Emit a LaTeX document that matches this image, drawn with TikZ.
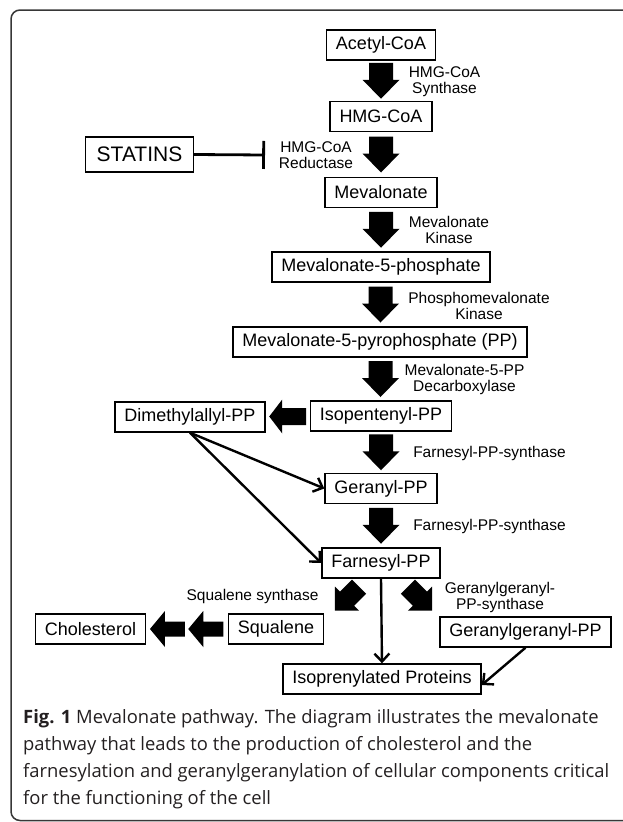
\documentclass[tikz,border=0pt]{standalone}
\usepackage{fontspec}
\setmainfont{Liberation Sans}
\newfontfamily\capfont{Open Sans}
\usepackage{tikz}
\usetikzlibrary{positioning,arrows.meta,calc}
\definecolor{framegray}{RGB}{55,55,55}
\definecolor{captext}{RGB}{35,31,32}

\tikzset{
  pics/fatarrow/.style args={#1/#2/#3/#4}{code={
    \fill (-#1/2,-#2) -- (#1/2-#4,-#2) -- (#1/2-#4,-#3) -- (#1/2,0)
      -- (#1/2-#4,#3) -- (#1/2-#4,#2) -- (-#1/2,#2) -- cycle;
  }}
}

\begin{document}
\begin{tikzpicture}[x=1pt, y=-1pt,
  box/.style={draw, line width=1.4pt, minimum height=30pt, inner xsep=9.5pt, font=\fontsize{18}{20}\selectfont},
  enzyme/.style={align=center, inner sep=0pt, font=\fontsize{15.5}{16}\selectfont},
  thinarrow/.style={line width=2.4pt, -{Straight Barb[length=8pt,width=15pt]}},
  inhibit/.style={line width=2.8pt, -{Bar[width=28pt]}},
  frame/.style={draw=framegray, line width=1.5pt, rounded corners=9pt},
  caption/.style={align=left, inner sep=0pt, text=captext, font=\capfont\fontsize{18.4}{27}\selectfont}]
\useasboundingbox (0,0) rectangle (622,822);
% Frame
\draw[frame] (626,10) -- (11,10) -- (11,820.5) -- (626,820.5);

% Main chain
\node[box] (acetyl) at (381,45) {Acetyl-CoA};
\node[box] (hmgcoa) at (381,116.5) {HMG-CoA};
\node[box] (mevalonate) at (381,192.5) {Mevalonate};
\node[box] (mevp) at (381,267) {Mevalonate-5-phosphate};
\node[box] (mevpp) at (380,342) {Mevalonate-5-pyrophosphate (PP)};
\node[box] (ipp) at (381,416) {Isopentenyl-PP};
\node[box] (gpp) at (381,488.5) {Geranyl-PP};
\node[box] (fpp) at (381,563) {Farnesyl-PP};
% Side products
\node[box, minimum height=35pt, inner xsep=11pt, font=\fontsize{21}{24}\selectfont] (statins) at (139.5,154.5) {STATINS};
\node[box] (dmapp) at (190,417) {Dimethylallyl-PP};
\node[box] (chol) at (90.5,629) {Cholesterol};
\node[box] (squalene) at (276,629) {Squalene};
\node[box] (ggpp) at (525.5,632) {Geranylgeranyl-PP};
\node[box] (prot) at (382,679) {Isoprenylated Proteins};

% Enzymes
\node[enzyme] (synthase) at (444.5,81.5) {HMG-CoA\\Synthase};
\node[enzyme] (reductase) at (316,155.5) {HMG-CoA\\Reductase};
\node[enzyme] (mvk) at (449,229.5) {Mevalonate\\Kinase};
\node[enzyme] (pmvk) at (479,306) {Phosphomevalonate\\Kinase};
\node[enzyme] (mvd) at (464.5,379.5) {Mevalonate-5-PP\\Decarboxylase};
\node[enzyme] (fps1) at (489.5,453) {Farnesyl-PP-synthase};
\node[enzyme] (fps2) at (489.5,526) {Farnesyl-PP-synthase};
\node[enzyme] (sqs) at (252.5,596) {Squalene synthase};
\node[enzyme] (ggps) at (500,597) {Geranylgeranyl-\\PP-synthase};

% Block arrows
\pic[rotate=-90] at ($(acetyl.south)!0.5!(hmgcoa.north)$) {fatarrow=36/12/18.5/19};
\pic[rotate=-90] at ($(hmgcoa.south)!0.5!(mevalonate.north)$) {fatarrow=36/12/18.5/19};
\pic[rotate=-90] at ($(mevalonate.south)!0.5!(mevp.north)$) {fatarrow=36/12/18.5/19};
\pic[rotate=-90] at ($(mevp.south)!0.5!(mevpp.north)$) {fatarrow=36/12/18.5/19};
\pic[rotate=-90] at ($(mevpp.south)!0.5!(ipp.north)$) {fatarrow=36/12/18.5/19};
\pic[rotate=-90] at ($(ipp.south)!0.5!(gpp.north)$) {fatarrow=36/12/18.5/19};
\pic[rotate=-90] at ($(gpp.south)!0.5!(fpp.north)$) {fatarrow=36/12/18.5/19};
\pic[rotate=180] at ($(dmapp.east)!0.5!(ipp.west)$) {fatarrow=37/8.5/17/13};
\pic[rotate=180] at ($(chol.east)!0.26!(squalene.west)$) {fatarrow=35/7.5/18/15};
\pic[rotate=180] at ($(chol.east)!0.73!(squalene.west)$) {fatarrow=35/7.5/18/15};
\pic[rotate=-135] at ($(fpp.south)+(-34,20)$) {fatarrow=34/10/17/17};
\pic[rotate=-45] at ($(fpp.south)+(39,20)$) {fatarrow=34/10/17/17};

% Thin arrows
\draw[thinarrow] (dmapp.south) -- (gpp.west);
\draw[thinarrow] (dmapp.south) -- (fpp.west);
\draw[thinarrow] (fpp.south) -- (prot.north);
\draw[thinarrow] (ggpp.south) -- ([yshift=-6pt]prot.east);

% Inhibition
\coordinate (block) at (265,155);
\draw[inhibit] (statins.east) -- (block);

% Caption
\node[caption, anchor=north west] (legend) at (23,709) {\textbf{Fig. 1} Mevalonate pathway. The diagram illustrates the mevalonate\\pathway that leads to the production of cholesterol and the\\farnesylation and geranylgeranylation of cellular components critical\\for the functioning of the cell};
\end{tikzpicture}
\end{document}
